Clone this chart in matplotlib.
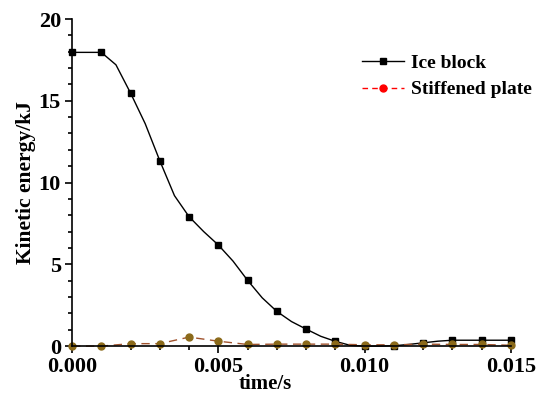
import matplotlib.pyplot as plt
from matplotlib.ticker import MultipleLocator
from matplotlib.lines import Line2D

plt.rcParams['font.family'] = ['Liberation Serif', 'DejaVu Serif']
plt.rcParams['font.weight'] = 'bold'

# ice block: line through half-step points, markers every 0.001 s
t_ice = [0.0, 0.0005, 0.001, 0.0015, 0.002, 0.0025, 0.003, 0.0035, 0.004, 0.0045,
         0.005, 0.0055, 0.006, 0.0065, 0.007, 0.0075, 0.008, 0.0085, 0.009, 0.0095,
         0.010, 0.0105, 0.011, 0.0115, 0.012, 0.0125, 0.013, 0.0135, 0.014, 0.0145, 0.015]
ke_ice = [17.96, 17.96, 17.96, 17.2, 15.47, 13.6, 11.33, 9.2, 7.91, 7.0,
          6.18, 5.2, 4.02, 2.95, 2.12, 1.5, 1.04, 0.6, 0.29, 0.05,
          0.0, 0.0, 0.02, 0.1, 0.2, 0.3, 0.36, 0.36, 0.36, 0.36, 0.36]

t_plate = [0.0, 0.001, 0.002, 0.003, 0.004, 0.005, 0.006, 0.007,
           0.008, 0.009, 0.010, 0.011, 0.012, 0.013, 0.014, 0.015]
ke_plate = [0.0, 0.0, 0.15, 0.15, 0.55, 0.3, 0.1, 0.12,
            0.12, 0.12, 0.08, 0.08, 0.12, 0.1, 0.1, 0.05]

fig = plt.figure(figsize=(5.5, 3.96), dpi=100)
ax = fig.add_axes([0.131, 0.126, 0.798, 0.826])

ax.plot(t_ice, ke_ice, color='black', lw=1, marker='s', ms=5, markevery=2, clip_on=False)
ax.plot(t_plate, ke_plate, color='#a0522d', lw=1, ls=(0, (6, 4)), marker='o', ms=5,
        mfc='#8b6a1a', mec='#8b6a1a', clip_on=False)

ax.set_xlim(0, 0.015)
ax.set_ylim(0, 20)
ax.xaxis.set_major_locator(MultipleLocator(0.005))
ax.xaxis.set_minor_locator(MultipleLocator(0.001))
ax.yaxis.set_major_locator(MultipleLocator(5))
ax.yaxis.set_minor_locator(MultipleLocator(1))
ax.xaxis.set_major_formatter(plt.FormatStrFormatter('%.3f'))
ax.tick_params(which='both', direction='out', labelsize=16, width=1.2)
ax.tick_params(which='major', length=5, pad=3)
ax.tick_params(which='minor', length=3)
for s in ['top', 'right']:
    ax.spines[s].set_visible(False)
for s in ['left', 'bottom']:
    ax.spines[s].set_linewidth(1.2)

ax.set_xlabel('time/s', fontsize=15, fontweight='bold')
ax.xaxis.set_label_coords(0.44, -0.085)
ax.set_ylabel('Kinetic energy/kJ', fontsize=15.5, fontweight='bold', labelpad=2)

handles = [Line2D([], [], color='black', lw=1, marker='s', ms=5),
           Line2D([], [], color='red', lw=1, ls=(0, (4, 3)), marker='o', ms=5)]
ax.legend(handles, ['Ice block', 'Stiffened plate'], loc='upper left',
          bbox_to_anchor=(0.62, 0.945), frameon=False, fontsize=14,
          handlelength=2.2, handletextpad=0.35, labelspacing=0.45)

fig.savefig('out.png')
